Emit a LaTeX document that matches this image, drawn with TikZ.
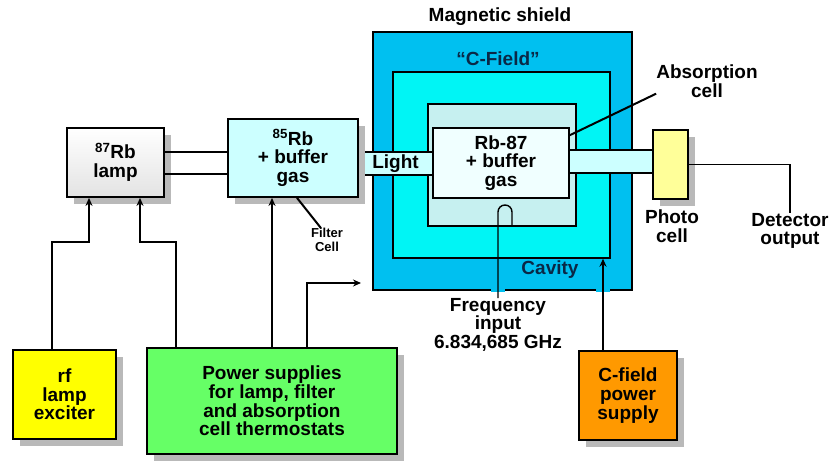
\documentclass[tikz,border=0pt]{standalone}
\usepackage{fontspec}
\setmainfont{Liberation Sans}
\usetikzlibrary{positioning,arrows.meta,calc,shadows}

\definecolor{shieldblue}{RGB}{0,192,240}
\definecolor{fieldcyan}{RGB}{0,245,245}
\definecolor{cavitycyan}{RGB}{198,240,240}
\definecolor{cellwhite}{RGB}{240,255,255}
\definecolor{beamcyan}{RGB}{204,255,255}
\definecolor{rfyellow}{RGB}{255,255,0}
\definecolor{photoyellow}{RGB}{255,255,153}
\definecolor{psgreen}{RGB}{102,255,102}
\definecolor{psorange}{RGB}{255,153,0}
\definecolor{labelblue}{RGB}{10,40,70}

\begin{document}
\begin{tikzpicture}[
    x=1pt, y=-1pt,
    font={\fontsize{19}{18.7}\selectfont\bfseries},
    block/.style={
        draw,
        line width=1.8pt,
        align=center,
        inner sep=0pt
    },
    unit/.style={block, drop shadow={shadow xshift=7pt, shadow yshift=-7pt,
        fill=gray!55, opacity=1}},
    layer/.style={block, line width=1.4pt},
    beamlight/.style={layer, fill=beamcyan},
    tag/.style={align=center, inner sep=0pt},
    small/.style={font={\fontsize{13}{14}\selectfont\bfseries}},
    arrow/.style={-{Stealth[length=8pt,width=7pt]}, line width=2pt},
    wire/.style={line width=2pt},
    thinwire/.style={line width=1.4pt},
    gap/.style={line width=2.8pt, draw=shieldblue}
]
\useasboundingbox (0,0) rectangle (831,463);

% ============================================================
% MAGNETIC SHIELD, C-FIELD, CAVITY
% ============================================================
\node[layer, fill=shieldblue, minimum width=259pt, minimum height=258pt] (shield) at (502.5,161) {};
\node[layer, fill=fieldcyan, minimum width=217pt, minimum height=186pt] (cfield) at (501.5,165) {};
\node[layer, fill=cavitycyan, minimum width=148pt, minimum height=122pt] (cavity) at (502,165) {};
\node[layer, fill=cellwhite, minimum width=136pt, minimum height=70pt] (abscell) at (501,163)
    {Rb-87\\+ buffer\\gas};
\node[beamlight, minimum width=75pt, minimum height=23pt] (light) at (395.5,163.5) {Light};
\node[beamlight, minimum width=84pt, minimum height=23pt] (beam) at (611,161.5) {};

% ============================================================
% UNITS
% ============================================================
\node[unit, top color=white, bottom color=gray!22, minimum width=97pt, minimum height=69pt] (lamp) at (115.5,162.5)
    {\textsuperscript{87}Rb\\lamp};
\node[unit, fill=beamcyan, minimum width=130pt, minimum height=78pt] (filter) at (293,158)
    {\textsuperscript{85}Rb\\+ buffer\\gas};
\node[unit, fill=photoyellow, minimum width=35pt, minimum height=69pt] (photo) at (670.5,164.5) {};
\node[unit, fill=rfyellow, minimum width=103pt, minimum height=89pt] (rf) at (64.5,394.5)
    {rf\\lamp\\exciter};
\node[unit, fill=psgreen, minimum width=250pt, minimum height=106pt] (power) at (272,401)
    {Power supplies\\for lamp, filter\\and absorption\\cell thermostats};
\node[unit, fill=psorange, minimum width=98pt, minimum height=89pt] (cfps) at (628,395.5)
    {C-field\\power\\supply};

% ============================================================
% LABELS
% ============================================================
\node[tag] (shieldlabel) at (500,17) {Magnetic shield};
\node[tag, text=labelblue] (fieldlabel) at (498,59) {``C-Field''};
\node[tag, text=labelblue] (cavitylabel) at (550,270) {Cavity};
\node[tag] (abslabel) at (707,81) {Absorption\\cell};
\node[tag, anchor=north] (freq) at (498,298) {Frequency\\input\\6.834,685 GHz};
\node[tag] (photolabel) at (672,226) {Photo\\cell};
\node[tag, anchor=north] (det) at (790,213) {Detector\\output};
\node[tag, small] (filterlabel) at (327,240) {Filter\\Cell};

% openings in the shield
\draw[gap] ($(shield.south)+(-11.5,0)$) -- ++(14,0);
\draw[gap] ($(shield.south)+(93.5,0)$) -- ++(14,0);

% ============================================================
% CONNECTIONS
% ============================================================
\draw[wire] ([yshift=11pt]lamp.east) -- ([yshift=11pt]lamp.east -| filter.west);
\draw[wire] ([yshift=-11.5pt]lamp.east) -- ([yshift=-11.5pt]lamp.east -| filter.west);

\draw[arrow] ([xshift=-12.5pt]rf.north) -- ++(0,-107) -| ([xshift=-26.5pt]lamp.south);
\draw[arrow] ([xshift=-96pt]power.north) -- ++(0,-105) -| ([xshift=24.5pt]lamp.south);
\draw[arrow] (power.north) -- (power.north |- filter.south);
\coordinate (shieldin) at (361,283);
\draw[arrow] ([xshift=35pt]power.north) |- (shieldin);
\draw[arrow] ([xshift=-25pt]cfps.north) -- ([xshift=-25pt]cfps.north |- cfield.south);

\draw[thinwire] (freq.north) -- ++(0,-86) arc[start angle=180, end angle=360, radius=7] -- ++(0,14);
\draw[thinwire] (photo.east) -| (det.north);
\draw[wire] ([xshift=4pt]filter.south) -- ([xshift=10pt]filterlabel.north west);
\draw[wire] (abscell.22) -- (abslabel.194);

\end{tikzpicture}
\end{document}
